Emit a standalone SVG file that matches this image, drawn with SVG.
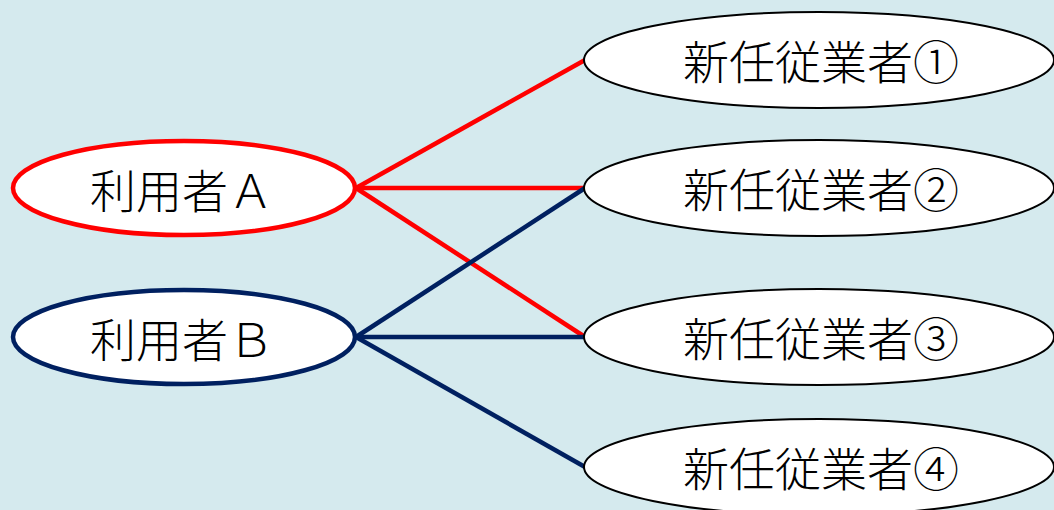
<svg xmlns="http://www.w3.org/2000/svg" width="1054" height="510" viewBox="0 0 1054 510">
<style>
.bg{fill:#D5EAEE}
.emp{fill:#fff;stroke:#000;stroke-width:2}
.usr{fill:#fff;stroke-width:4.5}
.lbl{font-family:"Noto Sans CJK JP","Noto Sans CJK SC",sans-serif;font-size:46px;fill:#000;text-anchor:middle;font-weight:300}
.r{stroke:#FF0000;stroke-width:4.5;fill:none}
.b{stroke:#002060;stroke-width:4.5;fill:none}
</style>
<rect class="bg" x="0" y="0" width="1054" height="510"/>
<g id="connectors">
<line class="r" x1="356" y1="188" x2="585" y2="60"/>
<line class="r" x1="356" y1="188" x2="585" y2="188"/>
<line class="r" x1="356" y1="188" x2="585" y2="337"/>
<line class="b" x1="356" y1="337" x2="585" y2="188"/>
<line class="b" x1="356" y1="337" x2="585" y2="337"/>
<line class="b" x1="356" y1="337" x2="585" y2="467"/>
</g>
<g id="userA">
<ellipse class="usr" stroke="#FF0000" cx="184" cy="188" rx="171" ry="47"/>
<text class="lbl" x="182" y="208">利用者Ａ</text>
</g>
<g id="userB">
<ellipse class="usr" stroke="#002060" cx="184" cy="337" rx="171" ry="47"/>
<text class="lbl" x="182" y="357">利用者Ｂ</text>
</g>
<g id="emp1">
<ellipse class="emp" cx="819" cy="60" rx="235" ry="48"/>
<text class="lbl" x="821" y="79">新任従業者①</text>
</g>
<g id="emp2">
<ellipse class="emp" cx="819" cy="188" rx="235" ry="48"/>
<text class="lbl" x="821" y="207">新任従業者②</text>
</g>
<g id="emp3">
<ellipse class="emp" cx="819" cy="337" rx="235" ry="48"/>
<text class="lbl" x="821" y="356">新任従業者③</text>
</g>
<g id="emp4">
<ellipse class="emp" cx="819" cy="467" rx="235" ry="48"/>
<text class="lbl" x="821" y="486">新任従業者④</text>
</g>
</svg>
